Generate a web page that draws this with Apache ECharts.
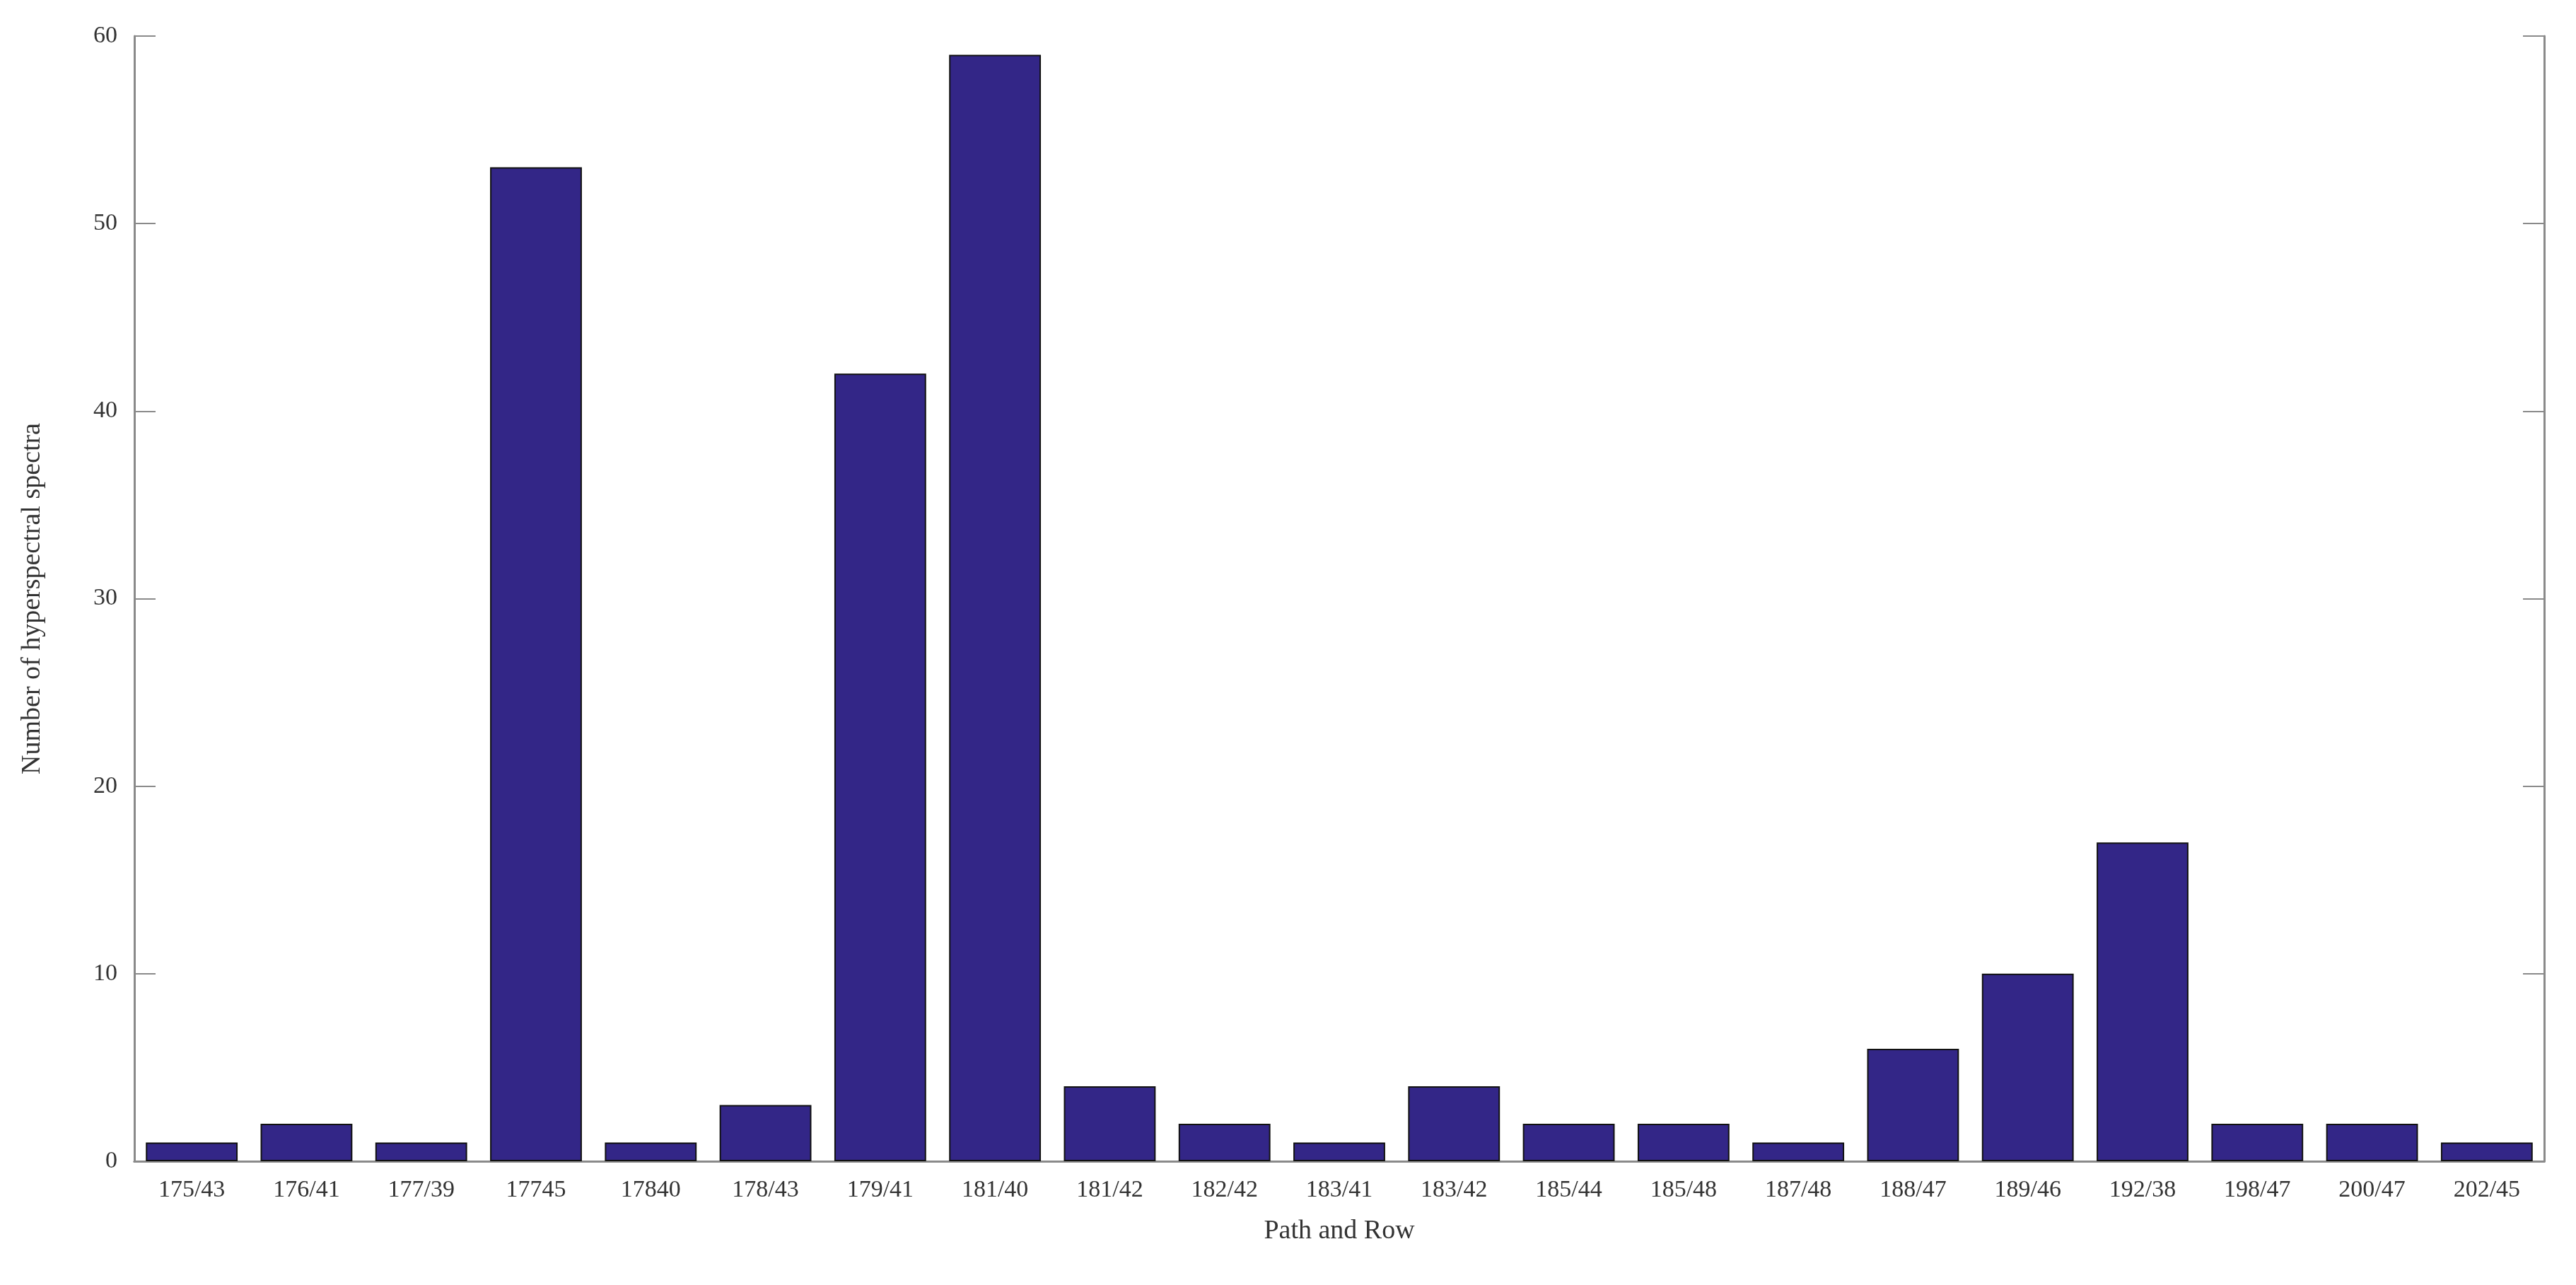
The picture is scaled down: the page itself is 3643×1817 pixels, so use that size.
<!DOCTYPE html>
<html><head><meta charset="utf-8">
<script src="https://cdn.jsdelivr.net/npm/echarts@6/dist/echarts.min.js"></script>
<style>html,body{margin:0;padding:0;background:#fff}#c{width:3643px;height:1817px}</style>
</head><body><div id="c"></div>
<script>
const categories = ["175/43","176/41","177/39","17745","17840","178/43","179/41","181/40","181/42","182/42","183/41","183/42","185/44","185/48","187/48","188/47","189/46","192/38","198/47","200/47","202/45"];
const counts = [1,2,1,53,1,3,42,59,4,2,1,4,2,2,1,6,10,17,2,2,1];
const yTicks = [0,10,20,30,40,50,60];

const font = "Liberation Serif";
const axisCol = '#8a8a8a';
const chart = echarts.init(document.getElementById('c'));
chart.setOption({
  animation:false,
  textStyle:{fontFamily:font},
  grid:{left:190,right:45,top:51,bottom:175},
  xAxis:[{
    type:'category', data:categories,
    name:'Path and Row', nameLocation:'middle', nameGap:80,
    nameTextStyle:{fontSize:38,color:'#333',fontFamily:font},
    axisLine:{lineStyle:{color:axisCol,width:3}},
    axisTick:{show:false},
    axisLabel:{fontSize:34,color:'#333',margin:24,fontFamily:font}
  },{
    type:'category', data:categories, position:'top',
    axisLine:{lineStyle:{color:axisCol,width:3}},
    axisTick:{show:false}, axisLabel:{show:false}
  }],
  yAxis:[{
    type:'value', min:0, max:60, interval:10,
    name:'Number of hyperspectral spectra', nameLocation:'middle', nameGap:125,
    nameTextStyle:{fontSize:38,color:'#333',fontFamily:font},
    axisLine:{show:true,lineStyle:{color:axisCol,width:3}},
    axisTick:{show:true,inside:true,length:30,lineStyle:{color:axisCol,width:2}},
    axisLabel:{fontSize:34,color:'#333',margin:24,fontFamily:font,
      formatter:v=>yTicks.includes(v)?String(v):''},
    splitLine:{show:false}
  },{
    type:'value', min:0, max:60, interval:10, position:'right',
    axisLine:{show:true,lineStyle:{color:axisCol,width:3}},
    axisTick:{show:true,inside:true,length:30,lineStyle:{color:axisCol,width:2}},
    axisLabel:{show:false}, splitLine:{show:false}
  }],
  series:[{
    type:'bar', data:counts, barCategoryGap:'20%',
    itemStyle:{color:'#332687',borderColor:'#111',borderWidth:2}
  }]
});
</script></body></html>
